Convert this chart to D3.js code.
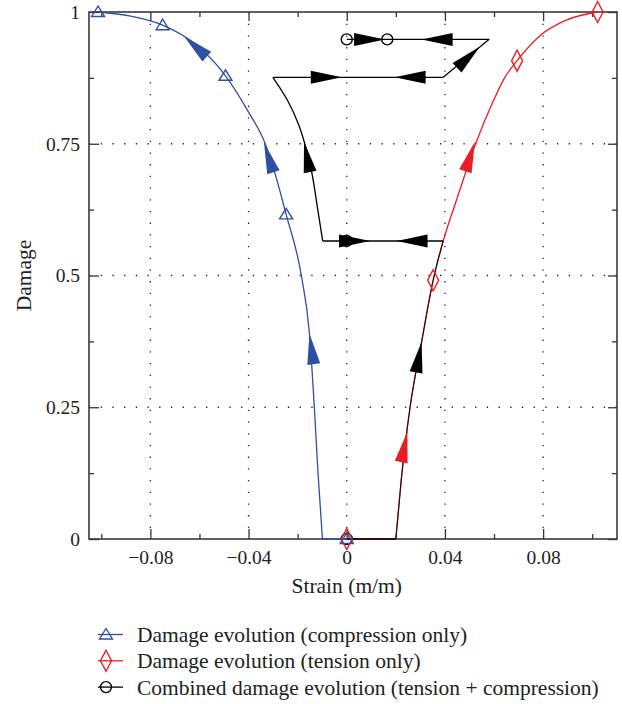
<!DOCTYPE html>
<html>
<head>
<meta charset="utf-8">
<script src="https://cdn.jsdelivr.net/npm/d3@7"></script>
<style>
  body { margin: 0; background: #fff; }
  text { font-family: "Liberation Serif", "DejaVu Serif", serif; fill: #222; }
</style>
</head>
<body>
<script>
// Dimensions
const width = 622;
const height = 704;
const margin = { top: 12, right: 5, bottom: 165, left: 89 };

const blue = '#2f4fa2';
const red = '#ec1c24';
const black = '#000';

// Axes ticks
const xTicks = [-0.08, -0.04, 0, 0.04, 0.08];
const xMinor = [-0.1, -0.06, -0.02, 0.02, 0.06, 0.1];
const yTicks = [0, 0.25, 0.5, 0.75, 1];
const yMinor = [0.125, 0.375, 0.625, 0.875];
const xGrid = [-0.08, -0.04, 0, 0.04, 0.08];
const yGrid = [0.25, 0.5, 0.75];

// Compression only (blue)
const compStrain = [-0.1013, -0.088, -0.075, -0.062, -0.0494, -0.04, -0.0332, -0.029, -0.0247, -0.0185, -0.0152, -0.0132, -0.0117, -0.0099];
const compDamage = [1.0, 0.992, 0.975, 0.94, 0.879, 0.81, 0.75, 0.69, 0.616, 0.5, 0.39, 0.25, 0.125, 0];
const compFlatStrain = [-0.0099, 0];
const compFlatDamage = [0, 0];
const compMarkStrain = [-0.1013, -0.075, -0.0494, -0.0247, 0];
const compMarkDamage = [1, 0.975, 0.879, 0.616, 0];
// arrows: [tailStrain, tailDamage, tipStrain, tipDamage]
const compArrows = [[-0.0564, 0.9127, -0.0664, 0.9545], [-0.030, 0.698, -0.0337, 0.752], [-0.0135, 0.334, -0.0152, 0.390]];

// Tension only (red)
const tensFlatStrain = [0, 0.02];
const tensFlatDamage = [0, 0];
const tensStrain = [0.02, 0.0222, 0.0258, 0.0305, 0.0352, 0.0393, 0.0445, 0.0525, 0.0596, 0.0643, 0.0694, 0.0787, 0.0896, 0.1022];
const tensDamage = [0, 0.112, 0.25, 0.374, 0.491, 0.5655, 0.64, 0.75, 0.83, 0.875, 0.9076, 0.955, 0.985, 1.0];
const tensMarkStrain = [0, 0.0352, 0.0694, 0.1022];
const tensMarkDamage = [0, 0.491, 0.9076, 1];
const tensArrows = [[0.0221, 0.144, 0.0247, 0.2036], [0.0481, 0.6945, 0.0522, 0.754]];

// Combined (black)
const combFlatStrain = [0, 0.02];
const combFlatDamage = [0, 0];
const combTensStrain = [0.02, 0.0222, 0.0258, 0.0305, 0.0352, 0.0393];
const combTensDamage = [0, 0.112, 0.25, 0.374, 0.491, 0.5655];
const combUnloadStrain = [0.0393, -0.0098];
const combUnloadDamage = [0.5655, 0.5655];
const combCompStrain = [-0.0098, -0.0121, -0.0142, -0.0165, -0.0195, -0.0242, -0.0301];
const combCompDamage = [0.5655, 0.634, 0.6945, 0.74, 0.785, 0.833, 0.876];
const combTopStrain = [-0.0301, 0.0393, 0.0579, 0];
const combTopDamage = [0.876, 0.876, 0.948, 0.948];
const combMarkStrain = [0, 0, 0, 0.0165];
const combMarkDamage = [0, 0.5655, 0.948, 0.948];
const combArrows = [
  [0.0282, 0.315, 0.0305, 0.374],
  [-0.0149, 0.696, -0.0174, 0.754],
  [-0.0037, 0.5655, 0.0095, 0.5655],
  [0.0335, 0.5655, 0.0203, 0.5655],
  [-0.0149, 0.876, -0.002, 0.876],
  [0.0336, 0.876, 0.0195, 0.876],
  [0.0453, 0.8956, 0.0542, 0.934],
  [0.0054, 0.948, 0.0156, 0.948],
  [0.0437, 0.948, 0.0305, 0.948]
];

// Legend
const legendLabels = [
  'Damage evolution (compression only)',
  'Damage evolution (tension only)',
  'Combined damage evolution (tension + compression)'
];
const legendColors = [blue, red, black];
const legendSymbols = ['triangle', 'diamond', 'circle'];

const zip = (xs, ys) => xs.map((v, i) => [v, ys[i]]);

const svg = d3.select('body')
  .append('svg')
  .attr('width', width)
  .attr('height', height);

const x = d3.scaleLinear()
  .domain([-0.105, 0.1101])
  .range([margin.left, width - margin.right]);

const y = d3.scaleLinear()
  .domain([0, 1])
  .range([height - margin.bottom, margin.top]);

// Grille pointillée
svg.append('g')
  .selectAll('line')
  .data(xGrid)
  .enter()
  .append('line')
  .attr('x1', d => x(d)).attr('x2', d => x(d))
  .attr('y1', y(1)).attr('y2', y(0))
  .attr('stroke', '#222').attr('stroke-width', 1.3)
  .attr('stroke-dasharray', '1.3 10.4');

svg.append('g')
  .selectAll('line')
  .data(yGrid)
  .enter()
  .append('line')
  .attr('x1', x.range()[0]).attr('x2', x.range()[1])
  .attr('y1', d => y(d)).attr('y2', d => y(d))
  .attr('stroke', '#222').attr('stroke-width', 1.3)
  .attr('stroke-dasharray', '1.3 10.4');

// Axes
const styleAxis = g => {
  g.select('.domain').remove();
  g.selectAll('.tick line').attr('stroke', '#333').attr('stroke-width', 1.3);
  g.selectAll('.tick text').style('font-family', '"Liberation Serif", serif').style('font-size', '19.5px').attr('fill', '#222');
};

svg.append('g')
  .attr('transform', `translate(0, ${y(0)})`)
  .call(d3.axisBottom(x).tickValues(xTicks).tickSize(-10).tickPadding(11).tickFormat(d3.format('')))
  .call(styleAxis);
svg.append('g')
  .attr('transform', `translate(0, ${y(0)})`)
  .call(d3.axisBottom(x).tickValues(xMinor).tickSize(-5).tickFormat(''))
  .call(styleAxis);
svg.append('g')
  .attr('transform', `translate(0, ${y(1)})`)
  .call(d3.axisTop(x).tickValues(xTicks).tickSize(-9).tickFormat(''))
  .call(styleAxis);
svg.append('g')
  .attr('transform', `translate(0, ${y(1)})`)
  .call(d3.axisTop(x).tickValues(xMinor).tickSize(-5).tickFormat(''))
  .call(styleAxis);
svg.append('g')
  .attr('transform', `translate(${x.range()[0]}, 0)`)
  .call(d3.axisLeft(y).tickValues(yTicks).tickSize(-10).tickPadding(9).tickFormat(d3.format('')))
  .call(styleAxis);
svg.append('g')
  .attr('transform', `translate(${x.range()[0]}, 0)`)
  .call(d3.axisLeft(y).tickValues(yMinor).tickSize(-5).tickFormat(''))
  .call(styleAxis);
svg.append('g')
  .attr('transform', `translate(${x.range()[1]}, 0)`)
  .call(d3.axisRight(y).tickValues(yTicks).tickSize(-9).tickFormat(''))
  .call(styleAxis);
svg.append('g')
  .attr('transform', `translate(${x.range()[1]}, 0)`)
  .call(d3.axisRight(y).tickValues(yMinor).tickSize(-5).tickFormat(''))
  .call(styleAxis);

// Cadre
svg.append('rect')
  .attr('x', x.range()[0]).attr('y', y(1))
  .attr('width', x.range()[1] - x.range()[0])
  .attr('height', y(0) - y(1))
  .attr('fill', 'none').attr('stroke', '#3a3a3a').attr('stroke-width', 1.6);

// Courbes
const lineLin = d3.line().x(d => x(d[0])).y(d => y(d[1]));
const lineMonoX = d3.line().x(d => x(d[0])).y(d => y(d[1])).curve(d3.curveMonotoneX);
const lineMonoY = d3.line().x(d => x(d[0])).y(d => y(d[1])).curve(d3.curveMonotoneY);

const drawPath = (pts, gen, color, w) => svg.append('path')
  .attr('d', gen(pts))
  .attr('fill', 'none')
  .attr('stroke', color)
  .attr('stroke-width', w)
  .attr('stroke-linejoin', 'round');

drawPath(zip(compStrain, compDamage), lineMonoX, blue, 1.3);
drawPath(zip(compFlatStrain, compFlatDamage), lineLin, blue, 1.3);
drawPath(zip(tensStrain, tensDamage), lineMonoX, red, 1.3);
drawPath(zip(tensFlatStrain, tensFlatDamage), lineLin, red, 1.3);

drawPath(zip(combFlatStrain, combFlatDamage), lineLin, black, 1.3);
drawPath(zip(combTensStrain, combTensDamage), lineMonoX, black, 1.1).attr('stroke-opacity', 0.85);
drawPath(zip(combUnloadStrain, combUnloadDamage), lineLin, black, 1.3);
drawPath(zip(combCompStrain, combCompDamage), lineMonoY, black, 1.3);
drawPath(zip(combTopStrain, combTopDamage), lineLin, black, 1.3);

// Symboles
const symbolPath = (type) => {
  if (type === 'triangle') return 'M0,-6L6.5,4.5L-6.5,4.5Z';
  if (type === 'diamond') return 'M0,-10.5L5.5,0L0,10.5L-5.5,0Z';
  return d3.arc()({ innerRadius: 0, outerRadius: 5.5, startAngle: 0, endAngle: 2 * Math.PI });
};

const drawMarks = (xs, ys, type, color) => svg.append('g')
  .selectAll('path')
  .data(zip(xs, ys))
  .enter()
  .append('path')
  .attr('d', symbolPath(type))
  .attr('transform', d => `translate(${x(d[0])}, ${y(d[1])})`)
  .attr('fill', 'none')
  .attr('stroke', color)
  .attr('stroke-width', 1.4);

drawMarks(combMarkStrain, combMarkDamage, 'circle', black);
drawMarks(tensMarkStrain, tensMarkDamage, 'diamond', red);
drawMarks(compMarkStrain, compMarkDamage, 'triangle', blue);

// Flèches
const arrowLen = 31;
const arrowHalf = 6.5;
const drawArrows = (arr, color) => svg.append('g')
  .selectAll('path')
  .data(arr)
  .enter()
  .append('path')
  .attr('d', d => {
    const tx = x(d[2]), ty = y(d[3]);
    const dx = tx - x(d[0]), dy = ty - y(d[1]);
    const n = Math.hypot(dx, dy);
    const ux = dx / n, uy = dy / n;
    const bx = tx - ux * arrowLen, by = ty - uy * arrowLen;
    return `M${tx},${ty}L${bx - uy * arrowHalf},${by + ux * arrowHalf}L${bx + uy * arrowHalf},${by - ux * arrowHalf}Z`;
  })
  .attr('fill', color);

drawArrows(compArrows, blue);
drawArrows(tensArrows, red);
drawArrows(combArrows, black);

// Titres des axes
svg.append('text')
  .attr('x', x(0))
  .attr('y', 593)
  .attr('text-anchor', 'middle')
  .style('font-size', '21.5px')
  .text('Strain (m/m)');

svg.append('text')
  .attr('transform', `translate(31, ${(y(0) + y(1)) / 2}) rotate(-90)`)
  .attr('text-anchor', 'middle')
  .style('font-size', '21.5px')
  .text('Damage');

// Légende
const legendY0 = 634.5;
const legendDy = 26.3;
const legend = svg.append('g')
  .selectAll('g')
  .data(legendLabels)
  .enter()
  .append('g')
  .attr('transform', (d, i) => `translate(0, ${legendY0 + i * legendDy})`);

legend.append('line')
  .attr('x1', 98).attr('x2', 123)
  .attr('stroke', (d, i) => legendColors[i])
  .attr('stroke-width', 1.3);

legend.append('path')
  .attr('d', (d, i) => symbolPath(legendSymbols[i]))
  .attr('transform', 'translate(106, 0)')
  .attr('fill', 'none')
  .attr('stroke', (d, i) => legendColors[i])
  .attr('stroke-width', 1.4);

legend.append('text')
  .attr('x', 137)
  .attr('y', 7.5)
  .style('font-size', '21.5px')
  .text(d => d);
</script>
</body>
</html>
